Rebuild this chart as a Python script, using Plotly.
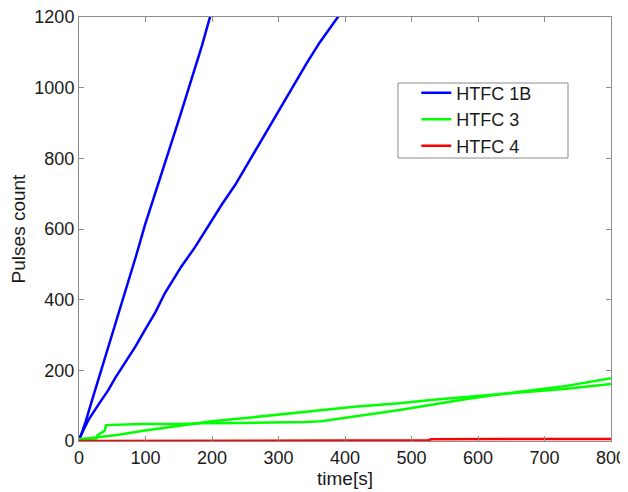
import plotly.graph_objects as go

# HTFC 1B (two runs)
b1_x = [0, 10, 20, 30, 44, 60, 74, 86, 99, 114, 134, 152, 172, 185, 197, 200]
b1_y = [0, 55, 118, 180, 267, 360, 452, 525, 610, 700, 815, 920, 1040, 1120, 1200, 1220]
b2_x = [0, 14, 30, 44, 55, 69, 85, 99, 115, 129, 145, 154, 175, 194, 215, 235, 262, 292, 312, 342, 362, 390, 395]
b2_y = [5, 59, 105, 144, 180, 220, 268, 314, 365, 418, 465, 494, 550, 607, 670, 725, 812, 905, 972, 1068, 1128, 1200, 1215]

# HTFC 3 (two runs)
g1_x = [0, 26, 28, 33, 38, 41, 69, 94, 150, 184, 244, 294, 340, 364, 414, 443, 482, 533, 583, 633, 683, 733, 800]
g1_y = [6, 7, 17, 22, 28, 45, 47, 48, 48, 50, 51, 52, 54, 56, 68, 77, 88, 104, 119, 132, 143, 156, 178]
g2_x = [0, 30, 60, 94, 120, 160, 200, 250, 300, 350, 392, 414, 443, 482, 533, 583, 633, 683, 733, 800]
g2_y = [4, 10, 18, 28, 35, 47, 56, 65, 75, 84, 93, 97, 101, 107, 117, 125, 132, 140, 148, 161]

# HTFC 4
r_x = [0, 100, 200, 300, 400, 410, 525, 530, 600, 650, 700, 800]
r_y = [0, 0, 1, 1, 1, 2, 2, 5, 5, 6, 6, 6]

x_ticks = [0, 100, 200, 300, 400, 500, 600, 700, 800]
y_ticks = [0, 200, 400, 600, 800, 1000, 1200]

BLUE, GREEN, RED = "#0000ff", "#00ff00", "#ff0000"
LW = 2.5
FONT = "Liberation Sans, Arial"
TXT = "#1a1a1a"
GREY = "#8c8c8c"

fig = go.Figure()
fig.add_trace(go.Scatter(x=b1_x, y=b1_y, mode="lines", name="HTFC 1B",
                         line=dict(color=BLUE, width=LW)))
fig.add_trace(go.Scatter(x=b2_x, y=b2_y, mode="lines", name="HTFC 1B",
                         line=dict(color=BLUE, width=LW), showlegend=False))
fig.add_trace(go.Scatter(x=g1_x, y=g1_y, mode="lines", name="HTFC 3",
                         line=dict(color=GREEN, width=LW)))
fig.add_trace(go.Scatter(x=g2_x, y=g2_y, mode="lines", name="HTFC 3",
                         line=dict(color=GREEN, width=LW), showlegend=False))
fig.add_trace(go.Scatter(x=r_x, y=r_y, mode="lines", name="HTFC 4",
                         line=dict(color=RED, width=LW)))

axis_common = dict(
    showline=True, linecolor=GREY, linewidth=1, mirror="ticks",
    ticks="inside", ticklen=5, tickcolor=GREY, showgrid=False, zeroline=False,
    automargin=False, ticklabeloverflow="allow",
    tickfont=dict(family=FONT, size=18, color=TXT),
)

# page has an 8px body margin; plot area in page: x 79..611, y 17..441 px
fig.update_layout(
    width=620, height=484,
    margin=dict(l=71, r=17, t=9, b=51),
    paper_bgcolor="white", plot_bgcolor="white",
    showlegend=True,
    legend=dict(x=0.634, y=0.864, xanchor="left", yanchor="top",
                bgcolor="rgba(0,0,0,0)", borderwidth=0,
                font=dict(family=FONT, size=18, color=TXT),
                tracegroupgap=0, traceorder="normal"),
    shapes=[dict(type="rect", xref="paper", yref="paper",
                 x0=(398 - 79) / 532, x1=(568 - 79) / 532,
                 y0=(441 - 158) / 424, y1=(441 - 83) / 424,
                 line=dict(color=GREY, width=1), fillcolor="white", layer="above")],
    xaxis=dict(range=[0, 800], tickvals=x_ticks, ticktext=[str(v) for v in x_ticks],
               title=dict(text="time[s]", standoff=2, font=dict(family=FONT, size=19, color=TXT)),
               **axis_common),
    yaxis=dict(range=[0, 1200], tickvals=y_ticks, ticktext=[str(v) for v in y_ticks],
               title=dict(text="Pulses count", standoff=12, font=dict(family=FONT, size=19, color=TXT)),
               **axis_common),
)

fig.write_html("out.html")
